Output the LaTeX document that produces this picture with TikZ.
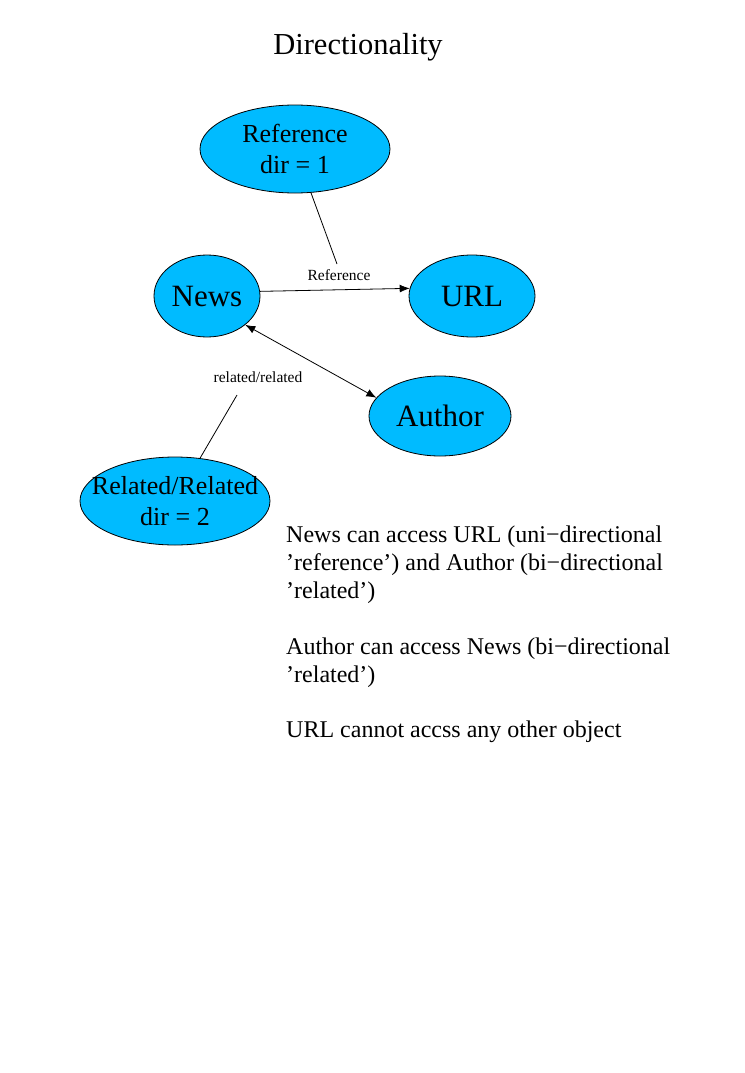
\documentclass[tikz,border=0pt]{standalone}
\usepackage{fontspec}
\setmainfont{Liberation Serif}
\usetikzlibrary{shapes.geometric,arrows.meta}
\definecolor{nodecyan}{RGB}{0,187,255}
\tikzset{
  obj/.style={ellipse, draw=black, line width=0.8pt, fill=nodecyan, inner sep=0pt, align=center},
  bigtxt/.style={font=\fontsize{31}{31}\selectfont},
  dirtxt/.style={font=\fontsize{26}{31}\selectfont, align=center, inner sep=0pt},
  edgelbl/.style={font=\fontsize{15.5}{16}\selectfont, inner sep=0pt},
  bodytxt/.style={font=\fontsize{24}{28}\selectfont, anchor=base west, inner sep=0pt},
  conn/.style={draw=black, line width=0.8pt},
  tip/.style={-{Latex[length=10pt,width=8pt]}},
  dtip/.style={{Latex[length=10pt,width=8pt]}-{Latex[length=10pt,width=8pt]}}
}
\begin{document}
\begin{tikzpicture}[x=1pt,y=-1pt]
\useasboundingbox (0,0) rectangle (744,1073);
\fill[white] (0,0) rectangle (744,1073);
% title
\node[font=\fontsize{30.5}{30.5}\selectfont, anchor=base, inner sep=0pt] (title) at (358,55) {Directionality};
% nodes
\node[obj, minimum width=190pt, minimum height=88pt,
      label={[dirtxt]center:Reference\\dir = 1}] (ref) at (295,149) {};
\node[obj, bigtxt, minimum width=106pt, minimum height=82pt] (news) at (207,296) {News};
\node[obj, bigtxt, minimum width=126pt, minimum height=82pt] (url) at (472,296) {URL};
\node[obj, bigtxt, minimum width=142pt, minimum height=80pt] (author) at (440,416) {Author};
\node[obj, minimum width=190pt, minimum height=88pt,
      label={[dirtxt]center:Related/Related\\dir = 2}] (rel) at (175,501) {};
% edge labels
\node[edgelbl] (reflbl) at (339,275) {Reference};
\node[edgelbl] (rellbl) at (258,377) {related/related};
\coordinate (refend) at (337,264);
\coordinate (relend) at (237,395);
% connectors
\draw[conn, tip] (news.5) -- (url.173);
\draw[conn, dtip] (news.-37) -- (author.164);
\draw[conn] (ref) -- (refend);
\draw[conn] (relend) -- (rel);
% text
\node[bodytxt] (t1) at (286,542) {News can access URL (uni−directional};
\node[bodytxt] (t2) at (286,570) {’reference’) and Author (bi−directional};
\node[bodytxt] (t3) at (286,598) {’related’)};
\node[bodytxt] (t4) at (286,654) {Author can access News (bi−directional};
\node[bodytxt] (t5) at (286,682) {’related’)};
\node[bodytxt] (t6) at (286,737) {URL cannot accss any other object};
\end{tikzpicture}
\end{document}
